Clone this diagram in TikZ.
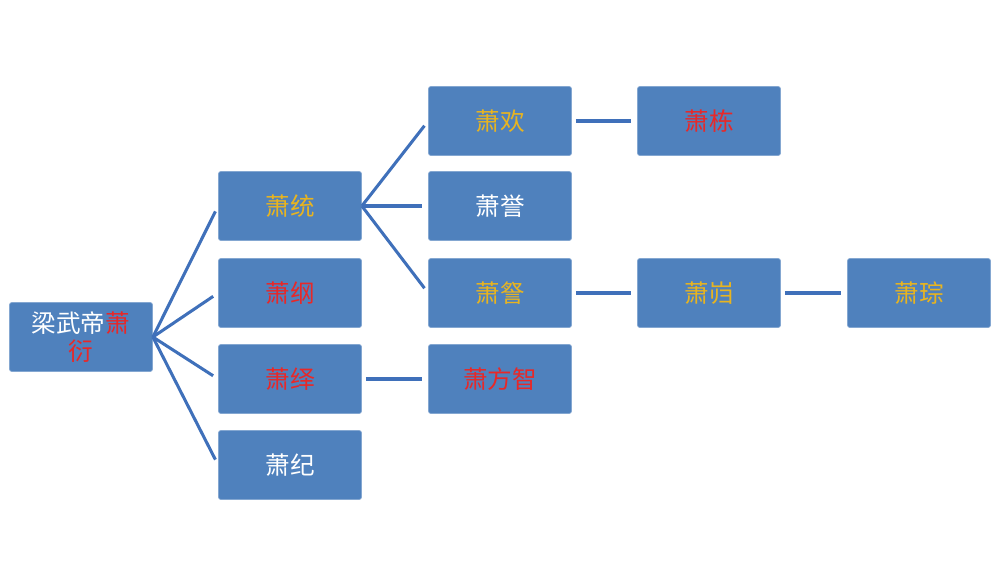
\documentclass[tikz,border=0pt]{standalone}
\usepackage{fontspec}
\setmainfont{Noto Sans CJK SC}
\usetikzlibrary{positioning}
\definecolor{boxblue}{HTML}{4F81BD}
\definecolor{edgeblue}{HTML}{3F70BA}
\definecolor{goldtxt}{HTML}{E8B420}
\definecolor{redtxt}{HTML}{E82828}

\begin{document}
\begin{tikzpicture}[
            x = 0.03cm, y = -0.03cm, % pixel grid
            semithick
        ]

        \tikzset{
            person/.style = {
                draw = boxblue!70!white,
                fill = boxblue,
                rounded corners = 2pt,
                minimum width = 4.29cm,
                minimum height = 2.07cm,
                font = \fontsize{21}{24}\selectfont,
                text = white
            },
            link/.style = {
                draw = edgeblue,
                line width = 2.6pt,
                shorten > = 0.18cm
            },
            flat/.style = {
                link,
                shorten < = 0.12cm
            }
        }

        \useasboundingbox (0,0) rectangle (1000,585);

        \node[person, align=center] (wu) at (81,337) {梁武帝\textcolor{redtxt}{萧}\\\textcolor{redtxt}{衍}};

        \node[person] (tong) at (290,206) {\textcolor{goldtxt}{萧统}};
        \node[person] (gang) at (290,293) {\textcolor{redtxt}{萧纲}};
        \node[person] (yi) at (290,379) {\textcolor{redtxt}{萧绎}};
        \node[person] (ji) at (290,465) {萧纪};

        \node[person] (huan) at (500,121) {\textcolor{goldtxt}{萧欢}};
        \node[person] (yu) at (500,206) {萧誉};
        \node[person] (cha) at (500,293) {\textcolor{goldtxt}{萧詧}};
        \node[person] (fangzhi) at (500,379) {\textcolor{redtxt}{萧方智}};

        \node[person] (dong) at (709,121) {\textcolor{redtxt}{萧栋}};
        \node[person] (kui) at (709,293) {\textcolor{goldtxt}{萧岿}};
        \node[person] (cong) at (919,293) {\textcolor{goldtxt}{萧琮}};

        \foreach \c in {tong, gang, yi, ji}
            \draw[link] (wu.east) -- (\c.west);
        \foreach \c in {huan, yu, cha}
            \draw[link] (tong.east) -- (\c.west);

        \draw[flat] (yi) -- (fangzhi);
        \draw[flat] (huan) -- (dong);
        \draw[flat] (cha) -- (kui);
        \draw[flat] (kui) -- (cong);

\end{tikzpicture}
\end{document}
